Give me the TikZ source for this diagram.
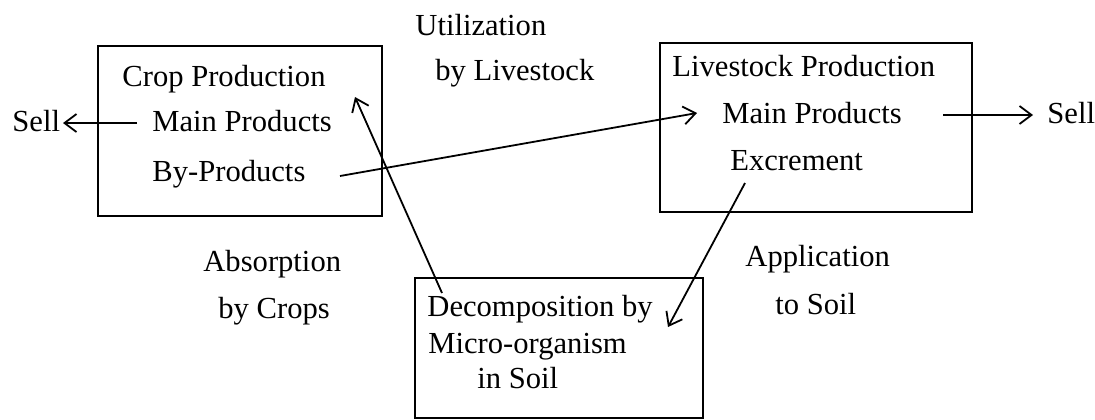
\documentclass[tikz,border=0pt]{standalone}
\usepackage{fontspec}
\setmainfont{Liberation Serif}
\usetikzlibrary{arrows.meta}
\begin{document}
\begin{tikzpicture}[x=0.5pt,y=-0.5pt,
  box/.style={draw,line width=1.2pt,inner sep=0pt},
  txt/.style={inner sep=0pt,anchor=west,text height=0.82em,text depth=0pt,font=\fontsize{15.3}{18}\selectfont},
  conn/.style={line width=0.9pt,-{Straight Barb[length=6pt,width=9pt,line width=0.9pt]}}]
\useasboundingbox (0,0) rectangle (1095,419);
% boxes
\node (crop) [box,minimum width=142pt,minimum height=85pt] at (240,131) {};
\node (live) [box,minimum width=156pt,minimum height=84.5pt] at (816,127.5) {};
\node (soil) [box,minimum width=144pt,minimum height=70pt] at (559,348) {};
% box texts
\node (cp) [txt] at (122,78) {Crop Production};
\node (cmain) [txt] at (152,123) {Main Products};
\node (cby) [txt] at (152,173) {By-Products};
\node (lp) [txt] at (672,68) {Livestock Production};
\node (lmain) [txt] at (722,115) {Main Products};
\node (lex) [txt] at (730,162) {Excrement};
\node (d1) [txt] at (427,308) {Decomposition by};
\node (d2) [txt] at (428,345) {Micro-organism};
\node (d3) [txt] at (477,380) {in Soil};
% labels
\node (sellL) [txt] at (12,123) {Sell};
\node (sellR) [txt] at (1047,115) {Sell};
\node (u1) [txt] at (415,27) {Utilization};
\node (u2) [txt] at (435,72) {by Livestock};
\node (a1) [txt] at (203,263) {Absorption};
\node (a2) [txt] at (218,310) {by Crops};
\node (p1) [txt] at (745,258) {Application};
\node (p2) [txt] at (775,306) {to Soil};
% connector ends
\coordinate (sellLs) at (137,123);
\coordinate (sellLt) at (63,123);
\coordinate (sellRs) at (943,115);
\coordinate (sellRt) at (1033,115);
\coordinate (bys) at (340,176);
\coordinate (byt) at (697,113);
\coordinate (abs) at (442,293);
\coordinate (abt) at (355,97);
\coordinate (aps) at (745,183);
\coordinate (apt) at (668,327);
% connectors
\draw[conn] (sellLs) -- (sellLt);
\draw[conn] (sellRs) -- (sellRt);
\draw[conn] (bys) -- (byt);
\draw[conn] (abs) -- (abt);
\draw[conn] (aps) -- (apt);
\end{tikzpicture}
\end{document}
